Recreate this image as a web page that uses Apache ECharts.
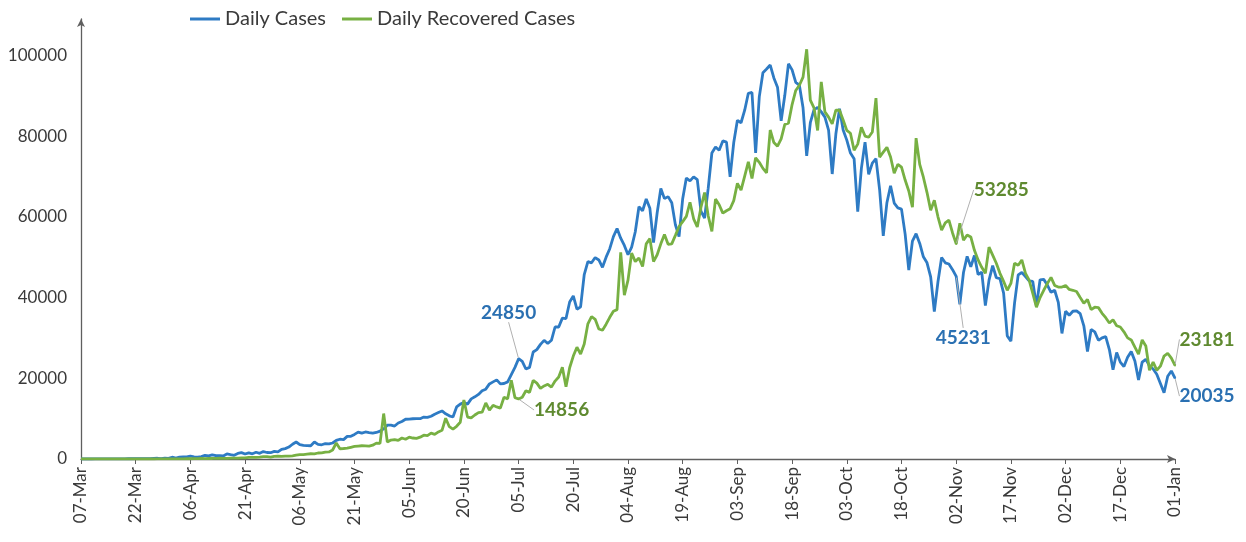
<!DOCTYPE html>
<html>
<head>
<meta charset="utf-8">
<title>Daily Cases / Daily Recovered Cases</title>
<script src="https://cdn.jsdelivr.net/npm/echarts@6/dist/echarts.min.js"></script>
<style>
  html, body { margin: 0; padding: 0; background: #fff; }
  #chart { width: 1246px; height: 542px; }
</style>
</head>
<body>
<div id="chart"></div>
<script>
// daily values from 07-Mar to 01-Jan, one array per month
const casesMar = [3, 5, 13, 4, 10, 12, 11, 16, 10, 26, 22, 24, 20, 58, 68, 70, 103, 82, 85, 88, 160, 180, 106, 227, 146]
const casesApr = [437, 235, 478, 525, 505, 704, 508, 485, 591, 896, 768, 1035, 812, 854, 758, 1243, 1061, 922, 1370, 1580, 1239, 1537, 1292, 1667, 1408, 1835, 1607, 1561, 1873, 1738]
const casesMay = [2394, 2564, 2952, 3656, 4213, 3561, 3390, 3320, 3277, 4213, 3604, 3524, 3787, 3722, 3967, 4600, 4900, 4800, 5611, 5609, 6088, 6654, 6400, 6700, 6535, 6387, 6566, 6900, 7466, 8380, 8392]
const casesJun = [8171, 8909, 9304, 9851, 9887, 9971, 9983, 9987, 10400, 10300, 10600, 11100, 11500, 11900, 11200, 10700, 10400, 12900, 13600, 14000, 13600, 14900, 15400, 16000, 16900, 17300, 18600, 19100, 19600, 18600]
const casesJul = [18700, 19100, 20900, 22700, 24850, 24200, 22300, 22700, 26500, 27100, 28400, 29400, 28600, 29400, 32700, 32700, 34900, 34800, 38900, 40400, 37100, 37700, 45700, 48900, 48600, 49900, 49300, 47500, 50000, 52100, 55100]
const casesAug = [57100, 54700, 52900, 50600, 52500, 56300, 62500, 61500, 64400, 62100, 53600, 61000, 67000, 64500, 65000, 63500, 58000, 55100, 64500, 69600, 68900, 69900, 69200, 61400, 59700, 67100, 75800, 77300, 76500, 78800, 78500]
const casesSep = [69900, 78400, 83900, 83300, 86400, 90600, 90800, 75800, 89700, 95700, 96600, 97600, 94400, 92100, 83800, 90100, 97900, 96400, 93300, 92600, 87000, 75100, 83300, 86500, 87100, 86000, 84700, 81500, 70600, 80500]
const casesOct = [86800, 81500, 79000, 75800, 74400, 61300, 72000, 78500, 70500, 73300, 74400, 66700, 55300, 63500, 67700, 63400, 62200, 61900, 55700, 46800, 54000, 55800, 53400, 50100, 48600, 45100, 36500, 43900, 49900, 48600, 48300]
const casesNov = [46900, 45231, 38300, 46200, 50200, 47600, 50400, 45700, 46300, 38000, 44300, 47900, 44900, 44700, 41100, 30500, 29200, 38600, 45600, 46200, 45200, 44100, 44000, 37900, 44400, 44500, 43100, 41300, 41800, 38800]
const casesDec = [31100, 36600, 35600, 36600, 36700, 36000, 33000, 26600, 32100, 31500, 29400, 30000, 30300, 27100, 22100, 26400, 24000, 22900, 25200, 26600, 24300, 19600, 24000, 24700, 23100, 22300, 21000, 18700, 16400, 20500, 21800]
const casesJan = [20035]

const recMar = [0, 0, 0, 1, 0, 1, 0, 2, 1, 0, 3, 1, 0, 2, 4, 2, 5, 1, 7, 6, 3, 12, 9, 16, 20]
const recApr = [26, 33, 50, 44, 62, 60, 88, 104, 122, 88, 144, 130, 155, 180, 164, 162, 224, 205, 236, 269, 298, 391, 389, 405, 446, 570, 581, 484, 665, 692]
const recMay = [630, 690, 700, 800, 950, 1060, 1100, 1200, 1300, 1270, 1490, 1510, 1690, 1750, 2230, 3960, 2540, 2600, 2680, 2900, 3110, 3210, 3280, 3250, 3200, 3420, 3940, 3880, 11260, 4200, 4700]
const recJun = [4800, 4600, 5200, 4900, 5400, 5200, 5100, 5400, 5900, 5800, 6400, 6100, 6700, 7100, 10100, 8000, 7400, 8100, 9100, 14600, 10400, 10200, 10900, 11500, 11600, 13900, 12100, 13300, 12900, 12600]
const recJul = [15300, 14900, 19500, 15200, 14856, 15300, 16900, 16500, 19500, 18800, 17500, 18100, 18500, 17800, 19300, 20300, 22700, 17900, 22600, 25500, 27700, 26000, 28500, 33500, 35300, 34600, 32200, 31900, 33400, 35100, 36600]
const recAug = [37000, 51200, 40600, 44300, 51000, 48900, 49800, 47700, 53300, 54600, 48900, 50600, 53300, 55600, 53200, 53300, 55400, 57600, 58800, 60100, 63600, 59500, 57500, 62300, 66000, 60200, 56400, 64400, 63000, 60900, 61500]
const recSep = [62000, 64000, 68300, 66600, 70100, 73600, 69500, 74600, 73500, 72000, 70900, 81500, 78400, 77500, 79300, 82900, 83200, 87800, 91300, 92600, 94600, 101500, 88900, 87000, 81400, 93400, 86000, 84700, 83000, 86400]
const recOct = [86400, 84000, 81400, 80700, 76500, 78000, 82200, 80000, 79700, 81000, 89400, 74800, 76000, 77200, 74800, 70800, 73000, 72300, 69100, 66400, 62400, 79500, 73000, 69800, 66000, 61600, 64100, 60000, 56700, 58500, 59200]
const recNov = [56000, 53285, 58400, 54200, 55500, 55000, 51700, 49300, 47500, 46000, 52500, 50500, 48500, 46000, 44000, 41800, 43500, 48500, 48000, 49300, 46000, 44300, 41000, 37600, 40000, 41800, 43500, 45000, 43000, 42600]
const recDec = [42600, 43000, 42000, 41800, 41500, 40000, 38600, 39500, 37000, 37600, 37500, 36100, 35000, 33700, 34500, 33000, 32700, 31500, 30000, 29500, 27700, 26000, 29500, 28000, 22000, 24000, 22000, 23000, 25500, 26200, 25000]
const recJan = [23181]

const dailyCases = [].concat(casesMar, casesApr, casesMay, casesJun, casesJul, casesAug, casesSep, casesOct, casesNov, casesDec, casesJan)
const dailyRecovered = [].concat(recMar, recApr, recMay, recJun, recJul, recAug, recSep, recOct, recNov, recDec, recJan)

// one category per day, 07-Mar onwards
const monthNames = ['Jan', 'Feb', 'Mar', 'Apr', 'May', 'Jun', 'Jul', 'Aug', 'Sep', 'Oct', 'Nov', 'Dec']
const days = dailyCases.map((v, i) => {
  const d = new Date(2020, 2, 7 + i)
  return String(d.getDate()).padStart(2, '0') + '-' + monthNames[d.getMonth()]
})

// which days carry a value label (day index -> label shift in px)
const caseNotes = { 120: [-10, -46], 240: [7, 61], 300: [32, 18] }
const recNotes = { 120: [43, 11], 240: [45, -54], 300: [32, -26] }

const blue = '#2E7BC4'
const green = '#77B043'

function withNotes (values, notes, textColor) {
  return values.map((v, i) => {
    if (!notes[i]) return v
    return {
      value: v,
      symbol: 'circle',
      symbolSize: 2,
      label: {
        show: true,
        position: 'inside',
        formatter: '{c}',
        color: textColor,
        fontSize: 19,
        fontWeight: 'bold',
        fontFamily: 'Lato'
      },
      labelLine: {
        show: true,
        lineStyle: { color: '#b0b0b0', width: 1 }
      }
    }
  })
}

function noteLayout (notes) {
  return function (params) {
    const off = notes[params.dataIndex]
    return off ? { dx: off[0], dy: off[1] } : {}
  }
}

const axisColor = '#5f5f5f'

const option = {
  animation: false,
  textStyle: { fontFamily: 'Lato' },
  legend: {
    data: ['Daily Cases', 'Daily Recovered Cases'],
    left: 185,
    top: 4,
    icon: 'rect',
    itemWidth: 30,
    itemHeight: 3,
    itemGap: 16,
    textStyle: { fontSize: 20, color: '#3a3a3a', fontFamily: 'Lato' }
  },
  grid: { left: 81, right: 71, top: 19, bottom: 83 },
  xAxis: {
    type: 'category',
    data: days,
    boundaryGap: false,
    axisLine: {
      symbol: ['none', 'arrow'],
      symbolSize: [6, 8],
      lineStyle: { color: axisColor, width: 1.3 }
    },
    axisTick: {
      show: true,
      interval: 14,
      length: 5,
      lineStyle: { color: axisColor }
    },
    axisLabel: {
      interval: 14,
      rotate: 90,
      fontSize: 17,
      color: '#3a3a3a',
      margin: 8
    },
    splitLine: { show: false }
  },
  yAxis: {
    type: 'value',
    min: 0,
    max: 109000,
    interval: 20000,
    axisLine: {
      show: true,
      symbol: ['none', 'arrow'],
      symbolSize: [6, 8],
      lineStyle: { color: axisColor, width: 1.3 }
    },
    axisTick: { show: false },
    axisLabel: {
      fontSize: 17,
      color: '#3a3a3a',
      margin: 14,
      formatter: v => (v % 20000 === 0 ? String(v) : '')
    },
    splitLine: { show: false }
  },
  series: [
    {
      name: 'Daily Cases',
      type: 'line',
      data: withNotes(dailyCases, caseNotes, '#2A70B2'),
      symbol: 'none',
      showSymbol: true,
      showAllSymbol: true,
      lineStyle: { color: blue, width: 2.8 },
      itemStyle: { color: blue },
      labelLayout: noteLayout(caseNotes)
    },
    {
      name: 'Daily Recovered Cases',
      type: 'line',
      data: withNotes(dailyRecovered, recNotes, '#5F8A30'),
      symbol: 'none',
      showSymbol: true,
      showAllSymbol: true,
      lineStyle: { color: green, width: 2.8 },
      itemStyle: { color: green },
      labelLayout: noteLayout(recNotes)
    }
  ]
}

const chart = echarts.init(document.getElementById('chart'))
chart.setOption(option)
</script>
</body>
</html>
